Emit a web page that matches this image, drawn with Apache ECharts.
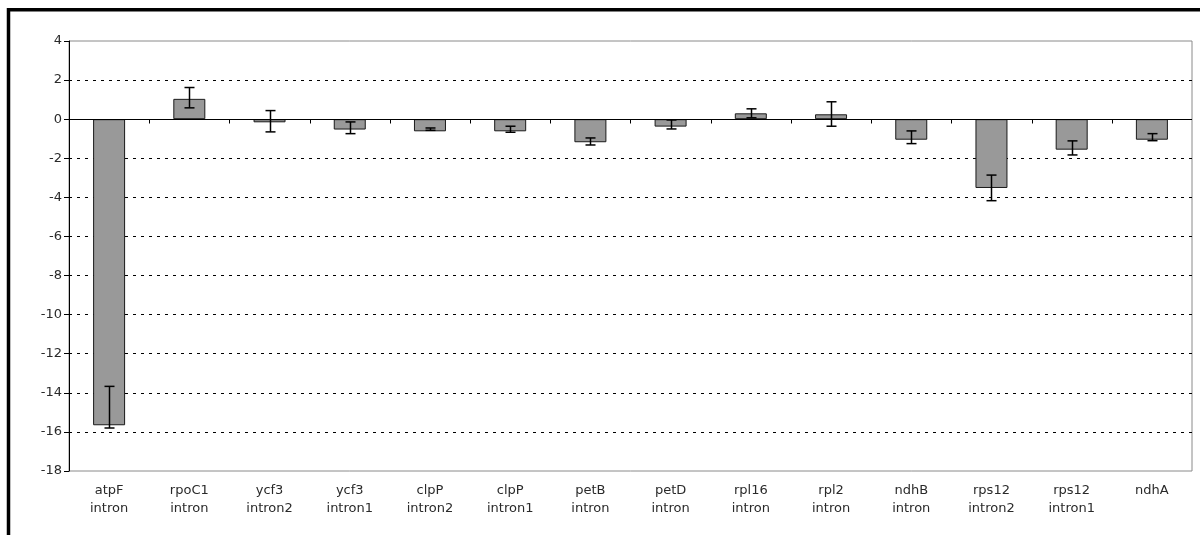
<!DOCTYPE html>
<html>
<head>
<meta charset="utf-8">
<style>
html,body{margin:0;padding:0;background:#fff;}
#chart{width:1200px;height:535px;}
</style>
<script src="https://cdn.jsdelivr.net/npm/echarts@6/dist/echarts.min.js"></script>
</head>
<body>
<div id="chart"></div>
<script>
const categories = ['atpF\nintron','rpoC1\nintron','ycf3\nintron2','ycf3\nintron1','clpP\nintron2','clpP\nintron1','petB\nintron','petD\nintron','rpl16\nintron','rpl2\nintron','ndhB\nintron','rps12\nintron2','rps12\nintron1','ndhA'];
const values  = [-15.66, 1.04, -0.16, -0.53, -0.62, -0.62, -1.18, -0.38, 0.30, 0.25, -1.05, -3.52, -1.56, -1.05];
const errHigh = [-13.67, 1.62, 0.44, -0.14, -0.45, -0.36, -0.96, -0.04, 0.53, 0.89, -0.60, -2.86, -1.11, -0.74];
const errLow  = [-15.80, 0.58, -0.65, -0.74, -0.57, -0.67, -1.32, -0.50, 0.07, -0.36, -1.25, -4.17, -1.83, -1.10];
const yMin = -18, yMax = 4, yStep = 2;

const chart = echarts.init(document.getElementById('chart'), null, {renderer:'canvas'});
const font = '"DejaVu Sans", Verdana, sans-serif';
const errData = categories.map((c,i)=>[i, errLow[i], errHigh[i]]);

chart.setOption({
  animation:false,
  backgroundColor:'#fff',
  grid:{left:69, right:8, top:41, bottom:64, show:true, borderColor:'#8a8a8a', borderWidth:1, backgroundColor:'#fff'},
  graphic:[{type:'rect', shape:{x:8.5, y:9.8, width:1400, height:800}, style:{fill:'none', stroke:'#000', lineWidth:3.5}, z:100}],
  xAxis:{
    type:'category', data:categories, position:'bottom',
    axisLine:{show:false, onZero:false}, axisTick:{show:false},
    axisLabel:{color:'#2a2a2a', fontFamily:font, fontSize:13, lineHeight:18, margin:11, interval:0}
  },
  yAxis:{
    type:'value', min:yMin, max:yMax, interval:yStep,
    axisLine:{show:true, lineStyle:{color:'#000', width:1}},
    axisTick:{show:true, length:5, lineStyle:{color:'#000'}},
    axisLabel:{color:'#2a2a2a', fontFamily:font, fontSize:13, margin:7},
    splitLine:{show:true, showMinLine:false, showMaxLine:false, lineStyle:{color:'#000', type:[3,5], width:1}}
  },
  series:[{
    type:'bar', data:values, barWidth:32,
    itemStyle:{color:'#999999', borderColor:'#1a1a1a', borderWidth:1},
    z:3
  },{
    // zero baseline with category boundary ticks
    type:'custom', data:[[0, 0]], z:4, silent:true,
    renderItem:function(params, api){
      const cs = params.coordSys;
      const p0 = api.coord([0, api.value(1)]);
      const y = Math.round(p0[1]) + 0.5;
      const bw = api.size([1, 0])[0];
      const st = {stroke:'#000', lineWidth:1};
      const ch = [{type:'line', shape:{x1:cs.x, y1:y, x2:cs.x+cs.width, y2:y}, style:st}];
      for (let i = 1; i < categories.length; i++) {
        const c = api.coord([i, 0]);
        const tx = Math.round(c[0] - bw/2) + 0.5;
        ch.push({type:'line', shape:{x1:tx, y1:y, x2:tx, y2:y+4}, style:st});
      }
      return {type:'group', children:ch};
    }
  },{
    type:'custom', data:errData, z:5, silent:true,
    renderItem:function(params, api){
      const x = api.value(0);
      const lo = api.coord([x, api.value(1)]);
      const hi = api.coord([x, api.value(2)]);
      const cx = Math.round(lo[0]) + 0.5;
      const hw = 5;
      const st = {stroke:'#000', lineWidth:1.5};
      return {type:'group', children:[
        {type:'line', shape:{x1:cx, y1:hi[1], x2:cx, y2:lo[1]}, style:st},
        {type:'line', shape:{x1:cx-hw, y1:hi[1], x2:cx+hw, y2:hi[1]}, style:st},
        {type:'line', shape:{x1:cx-hw, y1:lo[1], x2:cx+hw, y2:lo[1]}, style:st}
      ]};
    }
  }]
});
</script>
</body>
</html>
